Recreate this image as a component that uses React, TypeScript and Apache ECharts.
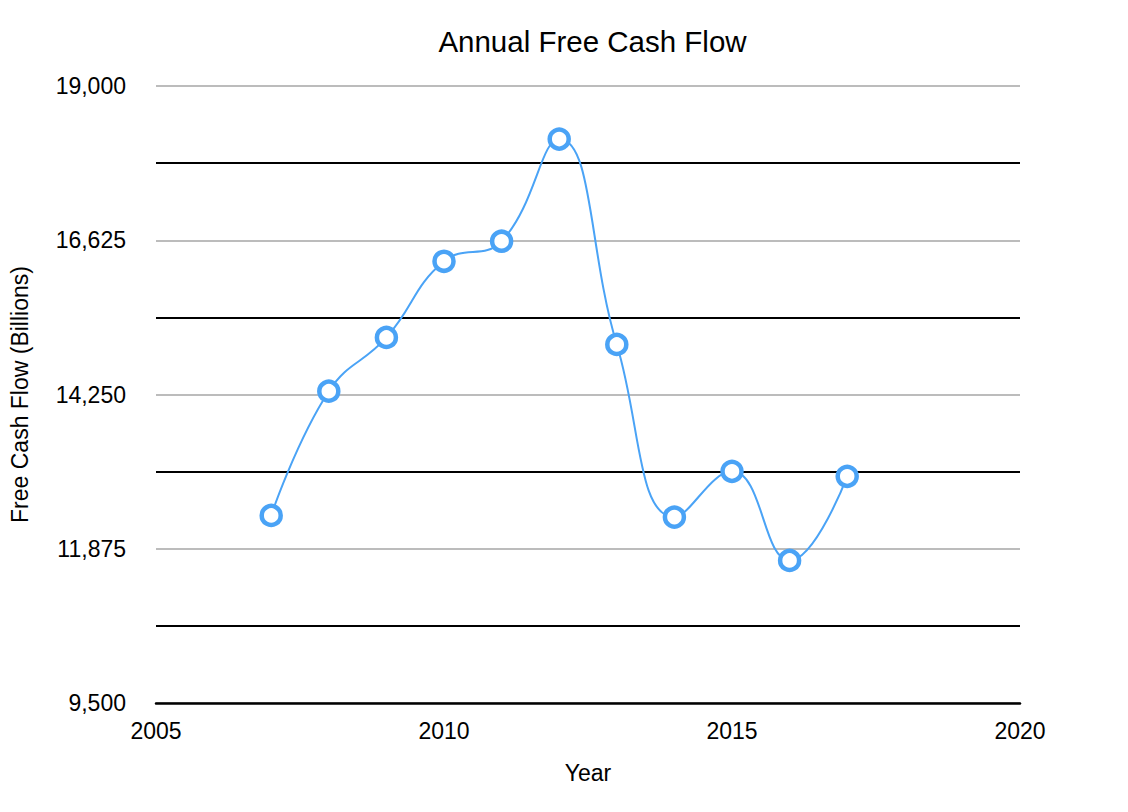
import React, { useEffect, useRef } from "react";
import * as echarts from "echarts";

const years = [2007, 2008, 2009, 2010, 2011, 2012, 2013, 2014, 2015, 2016, 2017];
const freeCashFlow = [12388, 14301, 15129, 16301, 16610, 18183, 15021, 12362, 13067, 11695, 12990];
const xTicks = [2005, 2010, 2015, 2020];
const yLabelValues = [9500, 11875, 14250, 16625, 19000];

const FONT = "'Liberation Sans', Arial, Helvetica, sans-serif";
const BLUE = "#4aa3f6";

export default function App() {
  const ref = useRef<HTMLDivElement>(null);
  useEffect(() => {
    if (!ref.current) return;
    const chart = echarts.init(ref.current, undefined, { renderer: "svg" });
    chart.setOption({
      animation: false,
      backgroundColor: "#ffffff",
      title: {
        text: "Annual Free Cash Flow",
        left: 587.5,
        textAlign: "center",
        top: 21,
        textStyle: { fontFamily: FONT, fontSize: 29.5, fontWeight: "normal", color: "#000" },
      },
      grid: { left: 155, right: 108, top: 86, bottom: 109 },
      xAxis: {
        type: "value",
        min: xTicks[0],
        max: xTicks[xTicks.length - 1],
        interval: 5,
        name: "Year",
        nameLocation: "middle",
        nameGap: 58,
        nameTextStyle: { fontFamily: FONT, fontSize: 23, color: "#000" },
        axisLine: { show: true, lineStyle: { color: "#000", width: 2.5 } },
        axisTick: { show: false },
        splitLine: { show: false },
        axisLabel: {
          fontFamily: FONT,
          fontSize: 23,
          color: "#000",
          margin: 16,
          formatter: (v: number) => String(v),
        },
      },
      yAxis: {
        type: "value",
        min: yLabelValues[0],
        max: yLabelValues[yLabelValues.length - 1],
        interval: (yLabelValues[1] - yLabelValues[0]) / 2,
        name: "Free Cash Flow (Billions)",
        nameLocation: "middle",
        nameGap: 125,
        nameTextStyle: { fontFamily: FONT, fontSize: 23, color: "#000" },
        axisLine: { show: false },
        axisTick: { show: false },
        splitLine: {
          show: true,
          lineStyle: { color: ["#bcbcbc", "#000000"], width: 2 },
        },
        axisLabel: {
          fontFamily: FONT,
          fontSize: 23,
          color: "#000",
          margin: 30,
          formatter: (v: number) =>
            yLabelValues.includes(v) ? v.toLocaleString("en-US") : "",
        },
      },
      series: [
        {
          type: "line",
          data: years.map((y, i) => [y, freeCashFlow[i]]),
          smooth: 0.45,
          symbol: "circle",
          symbolSize: 19,
          lineStyle: { color: BLUE, width: 2 },
          itemStyle: { color: "#ffffff", borderColor: BLUE, borderWidth: 4.5 },
          z: 5,
        },
      ],
    });
    return () => chart.dispose();
  }, []);
  return (
    <div
      ref={ref}
      style={{ position: "fixed", left: 0, top: 0, width: 1128, height: 812, background: "#fff" }}
    />
  );
}
